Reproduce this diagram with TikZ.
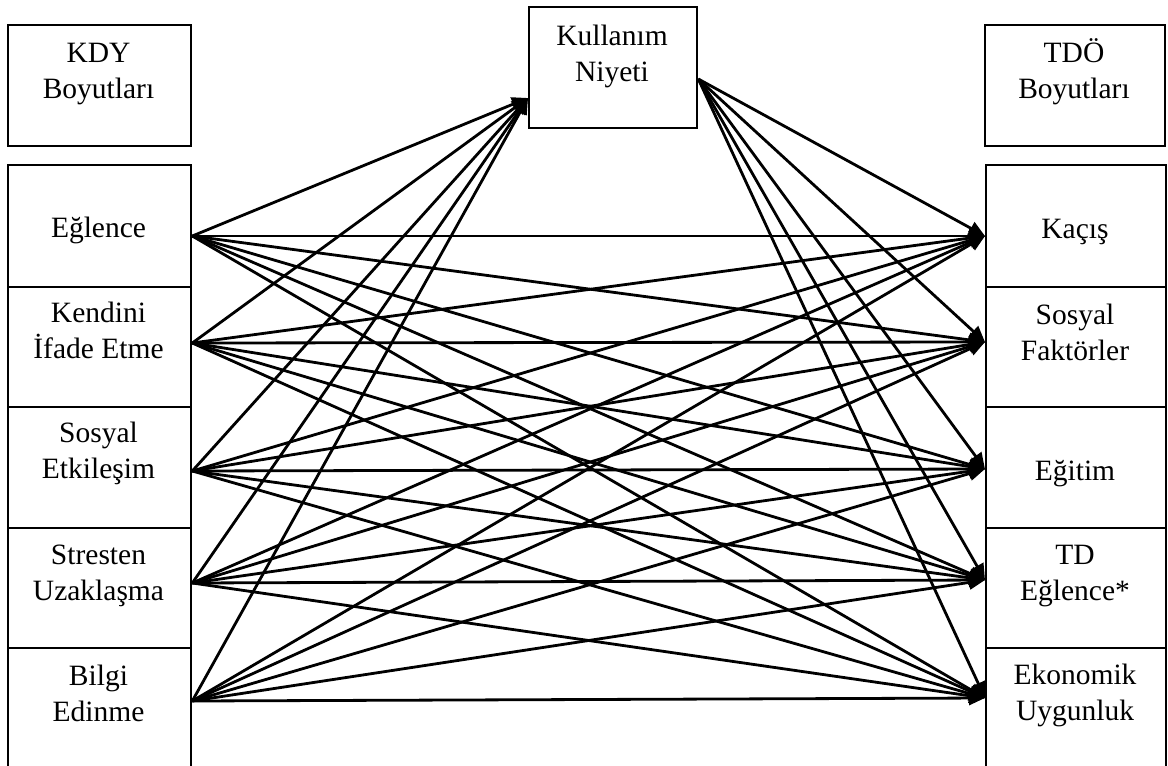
\documentclass[tikz,border=0pt]{standalone}
\usepackage{fontspec}
\setmainfont{Liberation Serif}
\usetikzlibrary{arrows.meta}

\begin{document}
\begin{tikzpicture}[x=1pt,y=-1pt,
  box/.style={draw, line width=2.3pt, anchor=north west, inner sep=0pt},
  lbox/.style={box, minimum width=183pt},
  rbox/.style={box, minimum width=180pt},
  txt/.style={font=\fontsize{29.5}{36}\selectfont, align=center, anchor=base, inner sep=0pt},
  conn/.style={line width=2.8pt, -{Triangle[length=16pt,width=14pt]}}]
\useasboundingbox (0,0) rectangle (1168,766);

% header boxes
\node[lbox, minimum height=121pt] (kdy) at (7,24) {};
\node[rbox, minimum height=121pt] (tdo) at (984,24) {};
\node[box, minimum width=168pt, minimum height=121pt] (kn) at (528,6) {};

% left column: KDY dimensions
\node[lbox, minimum height=122pt] (L1) at (7,164) {};
\node[lbox, minimum height=120pt] (L2) at (7,286) {};
\node[lbox, minimum height=121pt] (L3) at (7,406) {};
\node[lbox, minimum height=120pt] (L4) at (7,527) {};
\node[lbox, minimum height=135pt] (L5) at (7,647) {};

% right column: TDÖ dimensions
\node[rbox, minimum height=122pt] (R1) at (985,164) {};
\node[rbox, minimum height=120pt] (R2) at (985,286) {};
\node[rbox, minimum height=121pt] (R3) at (985,406) {};
\node[rbox, minimum height=120pt] (R4) at (985,527) {};
\node[rbox, minimum height=135pt] (R5) at (985,647) {};

% labels (anchored at the baseline of their last line)
\node[txt] (kdy-t) at (98.5,98) {KDY\\Boyutları};
\node[txt] (tdo-t) at (1074,98) {TDÖ\\Boyutları};
\node[txt] (kn-t) at (612,81) {Kullanım\\Niyeti};

\node[txt] (L1-t) at (98.5,237) {Eğlence};
\node[txt] (L2-t) at (98.5,358) {Kendini\\İfade Etme};
\node[txt] (L3-t) at (98.5,478) {Sosyal\\Etkileşim};
\node[txt] (L4-t) at (98.5,600) {Stresten\\Uzaklaşma};
\node[txt] (L5-t) at (98.5,721) {Bilgi\\Edinme};

\node[txt] (R1-t) at (1075,238) {Kaçış};
\node[txt] (R2-t) at (1075,360) {Sosyal\\Faktörler};
\node[txt] (R3-t) at (1075,480) {Eğitim};
\node[txt] (R4-t) at (1075,600) {TD\\Eğlence*};
\node[txt] (R5-t) at (1075,720) {Ekonomik\\Uygunluk};

% connector ends on the box edges
\coordinate (l1) at ([yshift=-72pt]L1.north east);
\coordinate (l2) at ([yshift=-57pt]L2.north east);
\coordinate (l3) at ([yshift=-65pt]L3.north east);
\coordinate (l4) at ([yshift=-56pt]L4.north east);
\coordinate (l5) at ([yshift=-54pt]L5.north east);
\coordinate (r1) at ([yshift=-72pt]R1.north west);
\coordinate (r2) at ([yshift=-56pt]R2.north west);
\coordinate (r3) at ([yshift=-63pt]R3.north west);
\coordinate (r4) at ([yshift=-53pt]R4.north west);
\coordinate (r5) at ([yshift=-51pt]R5.north west);
\coordinate (kn-in) at ([yshift=-92pt]kn.north west);
\coordinate (kn-out) at ([yshift=-73pt]kn.north east);

% every KDY dimension to the intention and to every TDÖ dimension
\foreach \s in {l1,l2,l3,l4,l5}{
  \draw[conn] (\s) -- (kn-in);
  \foreach \t in {r1,r2,r3,r4,r5}
    \draw[conn] (\s) -- (\t);
}
% intention to every TDÖ dimension
\foreach \t in {r1,r2,r3,r4,r5}
  \draw[conn] (kn-out) -- (\t);
\end{tikzpicture}
\end{document}
